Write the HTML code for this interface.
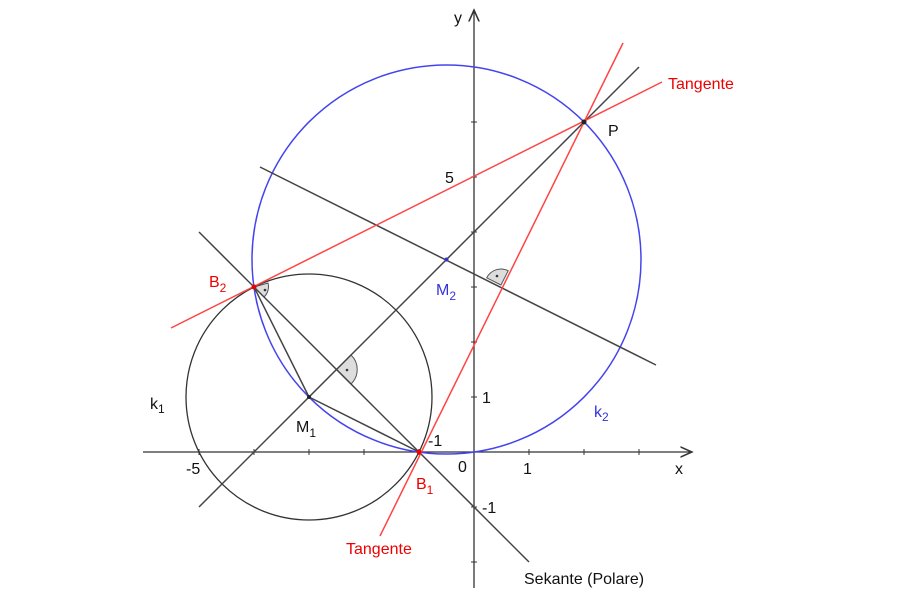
<!DOCTYPE html>
<html><head><style>body{margin:0;background:#fff}svg{display:block;font-family:"Liberation Sans",sans-serif}</style></head><body>
<svg width="900" height="611" viewBox="0 0 900 611" xmlns="http://www.w3.org/2000/svg">
<defs><marker id="a" markerWidth="10" markerHeight="10" refX="9" refY="5" orient="auto"><path d="M0,1 L9,5 L0,9" fill="none" stroke="#333" stroke-width="1.2"/></marker></defs>
<g stroke="#333" stroke-width="1.3">
<line x1="143" y1="452" x2="692" y2="452" marker-end="url(#a)"/>
<line x1="474" y1="588" x2="474" y2="10" marker-end="url(#a)"/>
</g>
<g stroke="#333" stroke-width="1">
<path d="M199,449v6M254,449v6M309,449v6M364,449v6M419,449v6M529,449v6M584,449v6M639,449v6"/>
<path d="M471,562h6M471,507h6M471,397h6M471,342h6M471,287h6M471,232h6M471,177h6M471,122h6M471,67h6"/>
</g>
<g fill="#ddd" stroke="#555" stroke-width="1">
<path d="M254,287 L268,283 A14,14 0 0 1 264,297 Z"/>
<path d="M336.5,369.5 L351,355 A20,20 0 0 1 351,384 Z"/>
<path d="M501,285 L486.7,277.8 A16,16 0 0 1 508.2,270.7 Z"/>
</g>
<g fill="#333"><circle cx="265" cy="290" r="1.3"/><circle cx="347" cy="370" r="1.3"/><circle cx="497" cy="276" r="1.3"/></g>
<circle cx="309" cy="397" r="123" fill="none" stroke="#333" stroke-width="1.3"/>
<circle cx="446.5" cy="259.5" r="194.5" fill="none" stroke="#4444ee" stroke-width="1.5"/>
<g stroke="#444" stroke-width="1.5">
<line x1="199" y1="507" x2="639" y2="67"/>
<line x1="199" y1="232" x2="529" y2="562"/>
<line x1="260" y1="167" x2="656" y2="365"/>
<line x1="309" y1="397" x2="254" y2="287"/>
<line x1="309" y1="397" x2="419" y2="452"/>
</g>
<g stroke="#f44" stroke-width="1.5">
<line x1="380" y1="536" x2="623" y2="43"/>
<line x1="171" y1="328" x2="662" y2="82"/>
</g>
<g><circle cx="584" cy="122" r="2.5" fill="#222"/><circle cx="419" cy="452" r="2.5" fill="#e00"/><circle cx="254" cy="287" r="2.5" fill="#e00"/><circle cx="309" cy="397" r="2" fill="#222"/><circle cx="446.5" cy="259.5" r="2" fill="#33c"/></g>
<g font-size="16" fill="#111">
<text x="454" y="23">y</text><text x="675" y="474">x</text>
<text x="186" y="474">-5</text><text x="458" y="472">0</text><text x="523" y="474">1</text>
<text x="445" y="183">5</text><text x="482" y="403">1</text><text x="482" y="513">-1</text>
<text x="428" y="446">-1</text>
<text x="608" y="136">P</text>
<text x="150" y="409">k<tspan font-size="12" dy="4">1</tspan></text>
<text x="296" y="432">M<tspan font-size="12" dy="5">1</tspan></text>
<text x="524" y="584">Sekante (Polare)</text>
</g>
<g font-size="16" fill="#e00">
<text x="668" y="89">Tangente</text>
<text x="346" y="554">Tangente</text>
<text x="209" y="287">B<tspan font-size="12" dy="5">2</tspan></text>
<text x="416" y="489">B<tspan font-size="12" dy="5">1</tspan></text>
</g>
<g font-size="16" fill="#3333dd">
<text x="436" y="295">M<tspan font-size="12" dy="5">2</tspan></text>
<text x="594" y="417">k<tspan font-size="12" dy="4">2</tspan></text>
</g>
</svg>
</body></html>
